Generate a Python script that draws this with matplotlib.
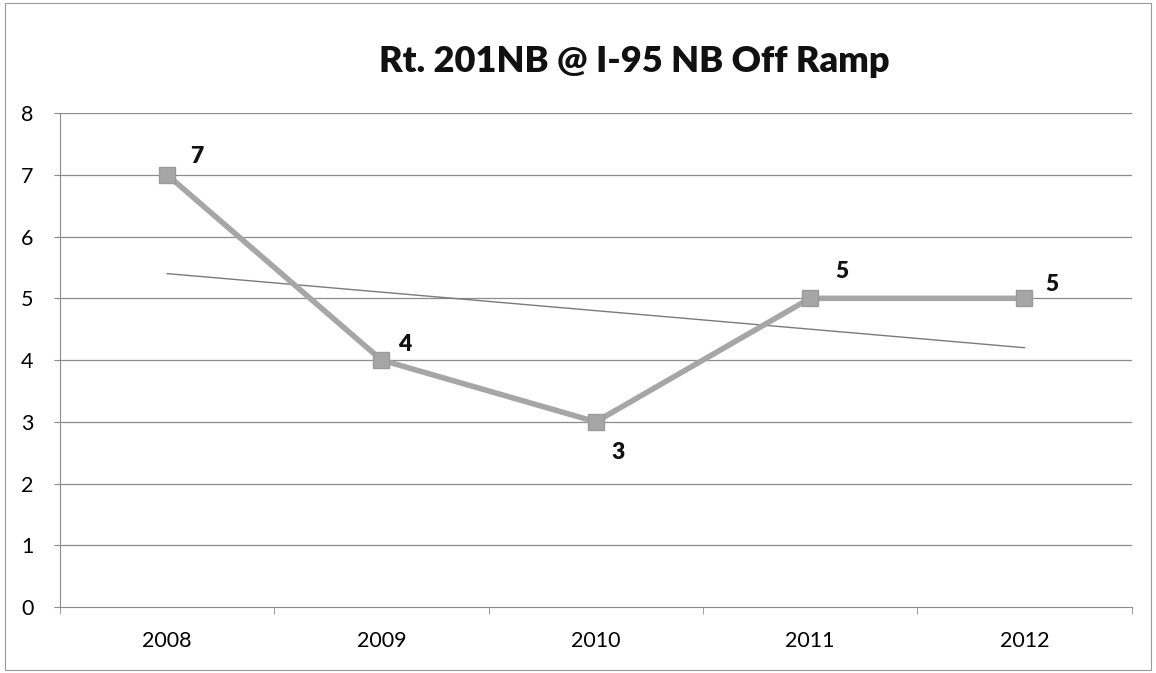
import matplotlib
matplotlib.use("Agg")
import matplotlib.pyplot as plt
import numpy as np

title = "Rt. 201NB @ I-95 NB Off Ramp"
years = ["2008", "2009", "2010", "2011", "2012"]
values = [7, 4, 3, 5, 5]
yticks = [0, 1, 2, 3, 4, 5, 6, 7, 8]

# label offsets in points (layout only)
label_offsets = [(21, 13), (17, 11), (16, -22), (23, 19), (20, 10)]

plt.rcParams['font.family'] = ['Lato', 'DejaVu Sans']

fig = plt.figure(figsize=(11.56, 6.73), dpi=100)
ax = fig.add_axes([0.0519, 0.098, 0.927, 0.734])

x = np.arange(len(years))
ax.set_xlim(-0.5, len(years) - 0.5)
ax.set_ylim(yticks[0], yticks[-1])

for yv in yticks[1:]:
    ax.axhline(yv, color="#8c8c8c", lw=0.9, zorder=1)

ax.plot(x, values, color="#a6a6a6", lw=4, marker="s", markersize=11,
        markerfacecolor="#a6a6a6", markeredgecolor="#9a9a9a", zorder=3)

coef = np.polyfit(x, values, 1)
ax.plot(x, np.polyval(coef, x), color="#7a7a7a", lw=1.0, zorder=2)

for xi, v, (dx, dy) in zip(x, values, label_offsets):
    ax.annotate(str(v), (xi, v), xytext=(dx, dy), textcoords="offset points",
                ha="center", va="center", fontsize=16.5, fontweight="heavy", color="#111111")

ax.set_xticks(x)
ax.set_xticklabels(years, fontsize=15.5)
ax.set_yticks(yticks)
ax.set_yticklabels([str(t) for t in yticks], fontsize=15.5)
ax.tick_params(axis="x", length=0, pad=17)
ax.tick_params(axis="y", length=4, color="#8c8c8c", pad=15)
ax.set_xticks(np.arange(-0.5, len(years), 1.0), minor=True)
ax.tick_params(axis="x", which="minor", length=5, color="#8c8c8c", direction="out")

for s in ["top", "right"]:
    ax.spines[s].set_visible(False)
ax.spines["left"].set_color("#8c8c8c")
ax.spines["bottom"].set_color("#8c8c8c")

fig.text(0.549, 0.908, title, ha="center", va="center", fontsize=26, fontweight="heavy", color="#111111")

fig.patches.append(plt.Rectangle((0.004, 0.004), 0.992, 0.992, transform=fig.transFigure,
                                 fill=False, edgecolor="#9a9a9a", lw=0.8))

fig.savefig("out.png", dpi=100)
